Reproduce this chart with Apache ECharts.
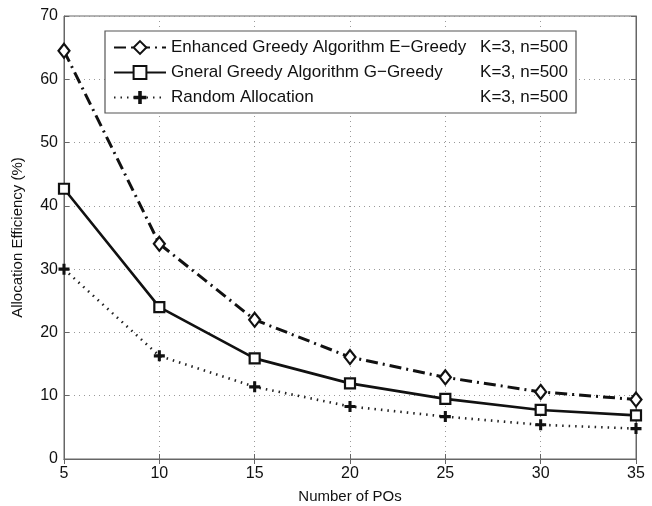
<!DOCTYPE html>
<html>
<head>
<meta charset="utf-8">
<script src="https://cdn.jsdelivr.net/npm/echarts@6/dist/echarts.min.js"></script>
<style>
html, body { margin: 0; padding: 0; background: #fff; }
#chart { width: 652px; height: 506px; }
</style>
</head>
<body>
<div id="chart"></div>
<script>
// 数据
var poCounts = [5, 10, 15, 20, 25, 30, 35];
var seriesNames = [
    'Enhanced Greedy Algorithm E\u2212Greedy',
    'Gneral Greedy Algorithm G\u2212Greedy',
    'Random Allocation'
];
var paramLabel = 'K=3, n=500';
var eGreedy = [64.5, 34.0, 22.0, 16.1, 12.9, 10.6, 9.4];
var gGreedy = [42.7, 24.0, 15.9, 11.95, 9.5, 7.75, 6.9];
var randomAlloc = [30.0, 16.3, 11.4, 8.3, 6.7, 5.4, 4.8];

var myChart = echarts.init(document.getElementById('chart'));

var plusIcon = 'path://M3.6,0 H6.4 V3.6 H10 V6.4 H6.4 V10 H3.6 V6.4 H0 V3.6 H3.6 Z';
var font = 'Liberation Sans, Arial, Helvetica, sans-serif';

function pairs(arr) {
    return poCounts.map(function (x, i) { return [x, arr[i]]; });
}

var option = {
    backgroundColor: '#fff',
    animation: false,
    textStyle: { fontFamily: font },
    grid: {
        left: 64, right: 16, top: 16, bottom: 47,
        outerBoundsMode: 'none',
        containLabel: false,
        show: true, borderColor: '#666', borderWidth: 1, backgroundColor: 'transparent'
    },
    legend: {
        left: 105, top: 31,
        orient: 'vertical',
        padding: [8, 8, 7, 8],
        itemGap: 8,
        itemWidth: 52,
        itemHeight: 16,
        borderColor: '#555',
        borderWidth: 1.2,
        backgroundColor: '#fff',
        data: seriesNames,
        formatter: function (name) {
            return '{a|' + name + '}{b|' + paramLabel + '}';
        },
        textStyle: {
            fontFamily: font,
            color: '#111',
            rich: {
                a: { fontFamily: font, fontSize: 17, color: '#111', width: 309 },
                b: { fontFamily: font, fontSize: 17, color: '#111', width: 88, align: 'right' }
            }
        }
    },
    xAxis: [{
        type: 'value',
        min: 5, max: 35, interval: 5,
        name: 'Number of POs',
        nameLocation: 'middle',
        nameGap: 30,
        nameTextStyle: { fontFamily: font, fontSize: 15, color: '#111' },
        axisLine: { show: true, lineStyle: { color: '#666', width: 1 } },
        axisTick: { show: true, inside: true, length: 5, lineStyle: { color: '#666' } },
        axisLabel: { fontFamily: font, fontSize: 16, color: '#111', margin: 7 },
        splitLine: { show: true, lineStyle: { color: '#999', type: [1, 4], width: 1 } }
    }, {
        type: 'value', position: 'top',
        min: 5, max: 35, interval: 5,
        axisLine: { show: true, lineStyle: { color: '#666' } },
        axisTick: { show: true, inside: true, length: 5, lineStyle: { color: '#666' } },
        axisLabel: { show: false },
        splitLine: { show: false }
    }],
    yAxis: [{
        type: 'value',
        min: 0, max: 70, interval: 10,
        name: 'Allocation Efficiency (%)',
        nameLocation: 'middle',
        nameGap: 39,
        nameTextStyle: { fontFamily: font, fontSize: 15, color: '#111' },
        axisLine: { show: true, lineStyle: { color: '#666', width: 1 } },
        axisTick: { show: true, inside: true, length: 5, lineStyle: { color: '#666' } },
        axisLabel: { fontFamily: font, fontSize: 16, color: '#111', margin: 6 },
        splitLine: { show: true, lineStyle: { color: '#999', type: [1, 4], width: 1 } }
    }, {
        type: 'value', position: 'right',
        min: 0, max: 70, interval: 10,
        axisLine: { show: true, lineStyle: { color: '#666' } },
        axisTick: { show: true, inside: true, length: 5, lineStyle: { color: '#666' } },
        axisLabel: { show: false },
        splitLine: { show: false }
    }],
    series: [{
        name: seriesNames[0],
        type: 'line',
        data: pairs(eGreedy),
        symbol: 'diamond',
        symbolSize: [11, 14],
        itemStyle: { color: '#fff', borderColor: '#111', borderWidth: 2.2 },
        lineStyle: { color: '#111', width: 3, type: [12, 5, 2, 5] },
        z: 3
    }, {
        name: seriesNames[1],
        type: 'line',
        data: pairs(gGreedy),
        symbol: 'rect',
        symbolSize: 10,
        itemStyle: { color: '#fff', borderColor: '#111', borderWidth: 2.2 },
        lineStyle: { color: '#111', width: 2.6, type: 'solid' },
        z: 3
    }, {
        name: seriesNames[2],
        type: 'line',
        data: pairs(randomAlloc),
        symbol: plusIcon,
        symbolSize: 11,
        itemStyle: { color: '#111', borderWidth: 0 },
        lineStyle: { color: '#222', width: 2.6, type: [1.5, 5] },
        z: 3
    }]
};

myChart.setOption(option);
</script>
</body>
</html>
